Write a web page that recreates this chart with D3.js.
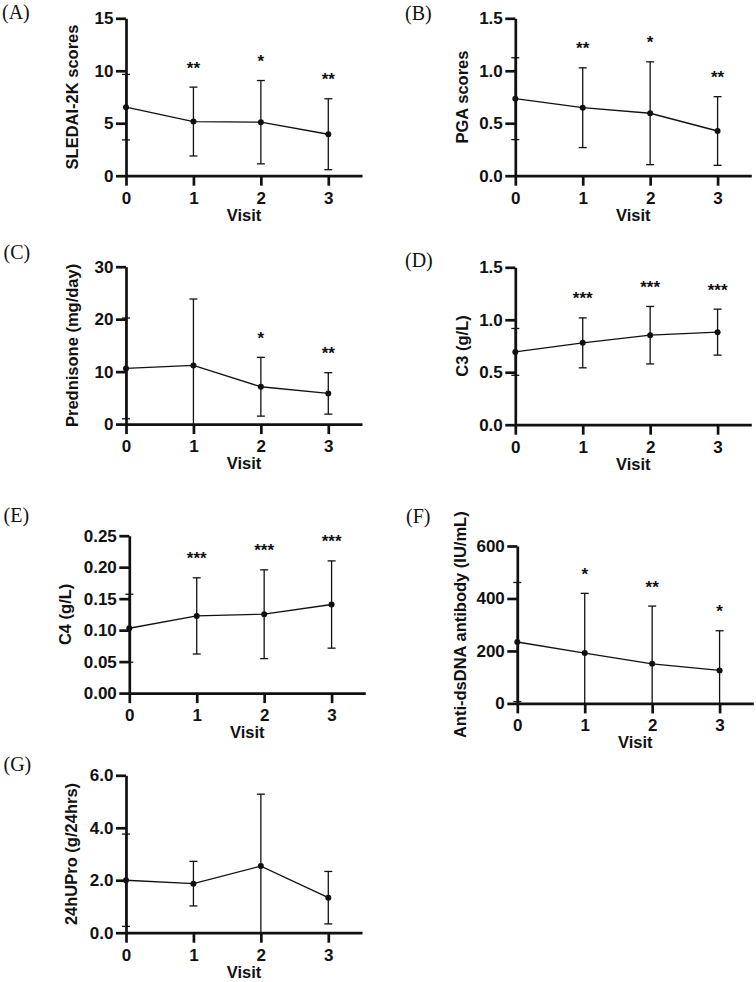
<!DOCTYPE html>
<html>
<head>
<meta charset="utf-8">
<script src="https://cdn.jsdelivr.net/npm/d3@7/dist/d3.min.js"></script>
<style>
  html, body { margin: 0; padding: 0; background: #fff; }
  svg { display: block; }
</style>
</head>
<body>
<svg id="chart" width="756" height="982"></svg>
<script>
// ---------------- DATA ----------------
const visits = [0, 1, 2, 3];
const xTicks = [0, 1, 2, 3];

const sledaiMean = [6.53, 5.16, 5.10, 3.95];
const sledaiSD   = [3.12, 3.28, 3.97, 3.38];
const sledaiSig  = ["", "**", "*", "**"];
const sledaiTicks = [0, 5, 10, 15];

const pgaMean = [0.734, 0.648, 0.595, 0.426];
const pgaSD   = [0.39, 0.38, 0.49, 0.327];
const pgaSig  = ["", "**", "*", "**"];
const pgaTicks = [0, 0.5, 1.0, 1.5];

const predMean = [10.62, 11.19, 7.12, 5.85];
const predSD   = [9.6, 12.65, 5.6, 3.95];
const predSig  = ["", "", "*", "**"];
const predTicks = [0, 10, 20, 30];

const c3Mean = [0.694, 0.78, 0.853, 0.882];
const c3SD   = [0.223, 0.238, 0.274, 0.219];
const c3Sig  = ["", "***", "***", "***"];
const c3Ticks = [0, 0.5, 1.0, 1.5];

const c4Mean = [0.103, 0.1226, 0.1253, 0.1407];
const c4SD   = [0.054, 0.0605, 0.0705, 0.0693];
const c4Sig  = ["", "***", "***", "***"];
const c4Ticks = [0, 0.05, 0.10, 0.15, 0.20, 0.25];

const dsdnaMean = [234, 191.8, 151, 125.8];
const dsdnaSD   = [227, 227.7, 220, 151.2];
const dsdnaSig  = ["", "*", "**", "*"];
const dsdnaTicks = [0, 200, 400, 600];

const uproMean = [2.0, 1.87, 2.54, 1.335];
const uproSD   = [1.76, 0.85, 2.74, 1.0];
const uproSig  = ["", "", "", ""];
const uproTicks = [0, 2.0, 4.0, 6.0];

const panelTags  = ["(A)", "(B)", "(C)", "(D)", "(E)", "(F)", "(G)"];
const yTitles    = ["SLEDAI-2K scores", "PGA scores", "Prednisone (mg/day)", "C3 (g/L)",
                    "C4 (g/L)", "Anti-dsDNA antibody (IU/mL)", "24hUPro (g/24hrs)"];
const xTitle = "Visit";

// ---------------- LAYOUT (positions / styles only) ----------------
const panels = [
  {tag: panelTags[0], title: yTitles[0], mean: sledaiMean, sd: sledaiSD, sig: sledaiSig, ticks: sledaiTicks, fmt: "d",
   left: 126,   top: 18.3,  tagX: 2,   tagY: 19,   titleOff: 48},
  {tag: panelTags[1], title: yTitles[1], mean: pgaMean, sd: pgaSD, sig: pgaSig, ticks: pgaTicks, fmt: ".1f",
   left: 515.3, top: 18.3,  tagX: 405, tagY: 19.5, titleOff: 47.3},
  {tag: panelTags[2], title: yTitles[2], mean: predMean, sd: predSD, sig: predSig, ticks: predTicks, fmt: "d",
   left: 126,   top: 266.7, tagX: 3.5, tagY: 259,  titleOff: 48},
  {tag: panelTags[3], title: yTitles[3], mean: c3Mean, sd: c3SD, sig: c3Sig, ticks: c3Ticks, fmt: ".1f",
   left: 515.3, top: 267.3, tagX: 405, tagY: 267,  titleOff: 47},
  {tag: panelTags[4], title: yTitles[4], mean: c4Mean, sd: c4SD, sig: c4Sig, ticks: c4Ticks, fmt: ".2f",
   left: 129.3, top: 535.7, tagX: 3.5, tagY: 522,  titleOff: 58},
  {tag: panelTags[5], title: yTitles[5], mean: dsdnaMean, sd: dsdnaSD, sig: dsdnaSig, ticks: dsdnaTicks, fmt: "d",
   left: 517.3, top: 546,   tagX: 406, tagY: 522.5, titleOff: 51},
  {tag: panelTags[6], title: yTitles[6], mean: uproMean, sd: uproSD, sig: uproSig, ticks: uproTicks, fmt: ".1f",
   left: 126,   top: 775.3, tagX: 3.5, tagY: 771,  titleOff: 48.7}
];

const W = 236, H = 157.4;
const SANS = "'Liberation Sans', Arial, Helvetica, sans-serif";
const SERIF = "'Liberation Serif', 'Times New Roman', serif";
const AXIS_W = 2.7, LINE_W = 1.3, CAP = 4, DOT_R = 3;

const svg = d3.select("#chart");

panels.forEach(p => {
  const g = svg.append("g").attr("transform", `translate(${p.left},${p.top})`);
  const x = d3.scaleLinear().domain([0, 3.5]).range([0, W]);
  const y = d3.scaleLinear().domain([0, d3.max(p.ticks)]).range([H, 0]);

  // error bars
  const eb = g.append("g").attr("stroke", "#111").attr("stroke-width", LINE_W).attr("fill", "none");
  visits.forEach((v, i) => {
    const hi = p.mean[i] + p.sd[i];
    const loRaw = p.mean[i] - p.sd[i];
    const lo = Math.max(0, loRaw);
    eb.append("line").attr("x1", x(v)).attr("x2", x(v)).attr("y1", y(hi)).attr("y2", y(lo));
    eb.append("line").attr("x1", x(v) - CAP).attr("x2", x(v) + CAP).attr("y1", y(hi)).attr("y2", y(hi));
    if (loRaw > 0) {
      eb.append("line").attr("x1", x(v) - CAP).attr("x2", x(v) + CAP).attr("y1", y(lo)).attr("y2", y(lo));
    }
  });

  // mean line
  const line = d3.line().x((d, i) => x(visits[i])).y(d => y(d));
  g.append("path").datum(p.mean).attr("d", line)
    .attr("fill", "none").attr("stroke", "#111").attr("stroke-width", LINE_W);

  // dots
  g.selectAll("circle.pt").data(p.mean).enter().append("circle")
    .attr("class", "pt")
    .attr("cx", (d, i) => x(visits[i])).attr("cy", d => y(d)).attr("r", DOT_R)
    .attr("fill", "#111");

  // significance stars
  g.selectAll("text.sig").data(p.sig).enter().append("text")
    .attr("class", "sig")
    .attr("x", (d, i) => x(visits[i]))
    .attr("y", (d, i) => y(p.mean[i] + p.sd[i]) - 13.5)
    .attr("text-anchor", "middle")
    .attr("font-family", SANS).attr("font-weight", "bold").attr("font-size", 17).attr("fill", "#111")
    .text(d => d);

  // axes
  const yAxis = d3.axisLeft(y).tickValues(p.ticks).tickFormat(d3.format(p.fmt))
    .tickSize(10).tickSizeOuter(0).tickPadding(2.5);
  const xAxis = d3.axisBottom(x).tickValues(xTicks).tickFormat(d3.format("d"))
    .tickSize(10).tickSizeOuter(0).tickPadding(6);

  const ya = g.append("g").call(yAxis);
  const xa = g.append("g").attr("transform", `translate(0,${H})`).call(xAxis);
  [ya, xa].forEach(a => {
    a.select(".domain").attr("stroke", "#111").attr("stroke-width", AXIS_W);
    a.selectAll(".tick line").attr("stroke", "#111").attr("stroke-width", AXIS_W);
    a.selectAll(".tick text").attr("font-family", SANS).attr("font-weight", "bold")
      .attr("font-size", 17).attr("fill", "#111");
  });

  // axis titles
  g.append("text")
    .attr("transform", `translate(${-p.titleOff},${H / 2}) rotate(-90)`)
    .attr("text-anchor", "middle")
    .attr("font-family", SANS).attr("font-weight", "bold").attr("font-size", 16.5).attr("fill", "#111")
    .text(p.title);
  g.append("text")
    .attr("x", W / 2).attr("y", H + 45)
    .attr("text-anchor", "middle")
    .attr("font-family", SANS).attr("font-weight", "bold").attr("font-size", 16.5).attr("fill", "#111")
    .text(xTitle);

  // panel tag
  svg.append("text")
    .attr("x", p.tagX).attr("y", p.tagY)
    .attr("font-family", SERIF).attr("font-size", 20).attr("fill", "#111")
    .text(p.tag);
});
</script>
</body>
</html>
